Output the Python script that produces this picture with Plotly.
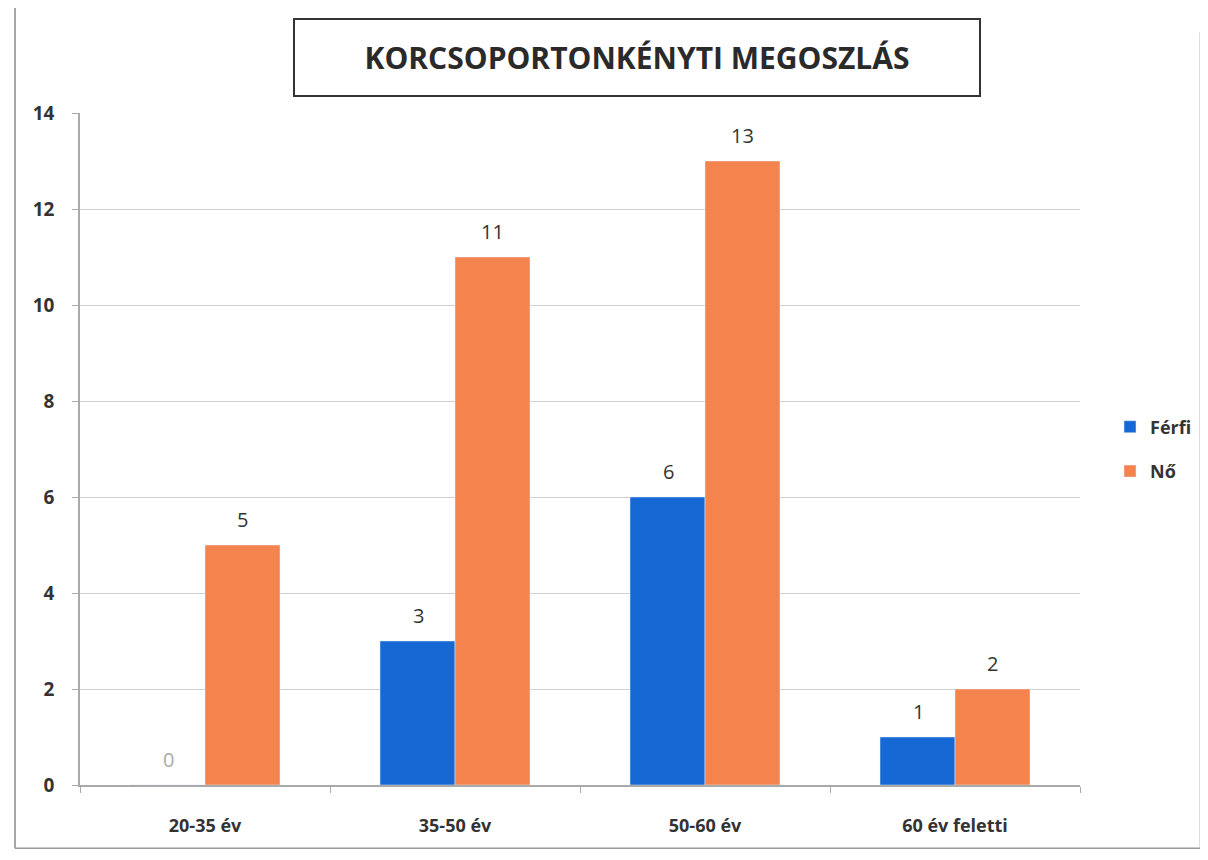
import plotly.graph_objects as go

categories = ["20-35 év", "35-50 év", "50-60 év", "60 év feletti"]
ferfi = [0, 3, 6, 1]
no = [5, 11, 13, 2]
title_text = "KORCSOPORTONKÉNYTI MEGOSZLÁS"
y_ticks = [0, 2, 4, 6, 8, 10, 12, 14]

BLUE = "#1668D4"
ORANGE = "#F5834E"
FONT = "Open Sans"
TXT = "#333333"

fig = go.Figure()
fig.add_trace(go.Bar(x=categories, y=ferfi, name="Férfi", marker_color=BLUE, legendgroup="a"))
fig.add_trace(go.Bar(x=categories, y=no, name="Nő", marker_color=ORANGE, legendgroup="b"))

annotations = [dict(
    text="<b>" + title_text + "</b>", xref="paper", yref="paper",
    x=0.557, y=1.082, xanchor="center", yanchor="middle", showarrow=False,
    font=dict(family=FONT, size=30, color="#2a2a2a"),
    bordercolor="#333333", borderwidth=2, borderpad=17,
    bgcolor="white", width=650,
)]
for series, shift in ((ferfi, -37), (no, 37)):
    for cat, v in zip(categories, series):
        annotations.append(dict(
            x=cat, y=v, xref="x", yref="y", text=str(v), showarrow=False,
            xanchor="center", yanchor="bottom", xshift=shift, yshift=10,
            font=dict(family=FONT, size=20, color="#aaaaaa" if v == 0 else TXT),
        ))

fig.update_layout(
    width=1208, height=860,
    margin=dict(l=72, r=136, t=105, b=83, autoexpand=False),
    paper_bgcolor="white", plot_bgcolor="white",
    barmode="group", bargap=0.4, bargroupgap=0,
    font=dict(family=FONT, color=TXT),
    showlegend=True,
    legend=dict(x=1.03, y=0.5, xanchor="left", yanchor="middle",
                font=dict(family=FONT, size=18, color=TXT, weight="bold"),
                tracegroupgap=18, itemwidth=30),
    annotations=annotations,
    shapes=[
        dict(type="line", xref="paper", yref="paper", x0=-0.065, x1=-0.065, y0=-0.094, y1=1.17,
             line=dict(color="#888888", width=1.5)),
        dict(type="line", xref="paper", yref="paper", x0=-0.065, x1=1.12, y0=-0.094, y1=-0.094,
             line=dict(color="#999999", width=1.5)),
        dict(type="line", xref="paper", yref="paper", x0=1.12, x1=1.12, y0=-0.094, y1=1.12,
             line=dict(color="#bbbbbb", width=1)),
    ],
)
fig.update_yaxes(
    range=[0, 14], tickvals=y_ticks, showgrid=True, gridcolor="#d0d0d0", gridwidth=1,
    showline=True, linecolor="#aaaaaa", linewidth=1.5, ticks="outside", ticklen=6,
    tickcolor="#aaaaaa", zeroline=False, automargin=False, ticklabelstandoff=14,
    tickfont=dict(family=FONT, size=19, color=TXT, weight="bold"),
)
fig.update_xaxes(
    showline=True, linecolor="#aaaaaa", linewidth=1.5, ticks="outside", ticklen=6,
    tickcolor="#aaaaaa", tickson="boundaries", automargin=False, ticklabelstandoff=24,
    tickfont=dict(family=FONT, size=18, color=TXT, weight="bold"),
)

fig.write_html("out.html")
